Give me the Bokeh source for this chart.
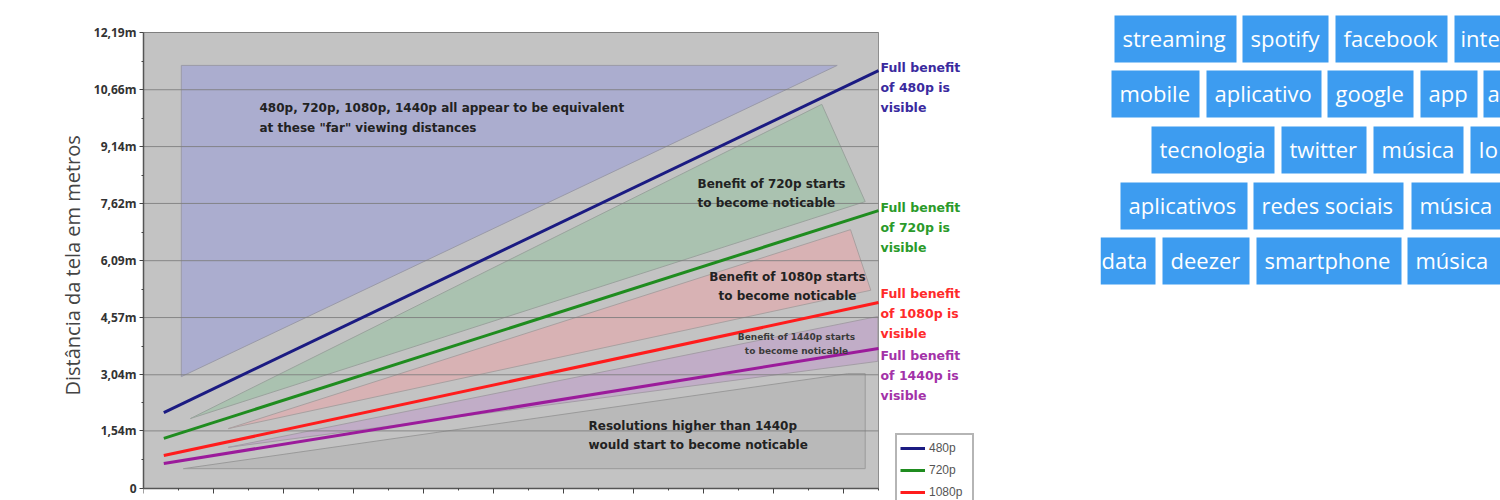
from bokeh.plotting import figure
from bokeh.models import Range1d, FixedTicker, LinearAxis, Legend, LegendItem, Title
from bokeh.layouts import row
from bokeh.embed import file_html
from bokeh.resources import INLINE
from bokeh.core.properties import value

# ---------------- data ----------------
y_ticks = [0, 1.54, 3.04, 4.57, 6.09, 7.62, 9.14, 10.66, 12.19]
y_tick_labels = ["0", "1,54m", "3,04m", "4,57m", "6,09m", "7,62m", "9,14m", "10,66m", "12,19m"]
x_ticks = [0, 10, 20, 30, 40, 50, 60, 70, 80, 90, 100]
x_minor_ticks = [5, 15, 25, 35, 45, 55, 65, 75, 85, 95, 105]
x_max = 105
y_max = 12.19

resolutions = ["480p", "720p", "1080p", "1440p"]
line_x = [2.9, 105.0]
line_480p = [2.03, 11.17]
line_720p = [1.34, 7.43]
line_1080p = [0.88, 4.97]
line_1440p = [0.67, 3.74]

region_480p_x = [5.4, 99.1, 5.4]
region_480p_y = [11.31, 11.31, 2.99]
region_720p_x = [6.7, 96.9, 103.1]
region_720p_y = [1.87, 10.27, 7.67]
region_1080p_x = [12.1, 101.0, 103.9]
region_1080p_y = [1.60, 6.92, 5.30]
region_1440p_x = [12.1, 104.9, 104.9]
region_1440p_y = [1.10, 4.60, 3.40]
region_higher_x = [5.7, 100.6, 103.1, 103.1]
region_higher_y = [0.53, 3.07, 3.07, 0.53]

y_axis_title = "Distância da tela em metros"

# visible parts of the tag cloud (the page cuts the outer tags)
tag_rows = [
    ["streaming", "spotify", "facebook", "inte"],
    ["mobile", "aplicativo", "google", "app", "a"],
    ["tecnologia", "twitter", "música", "Io"],
    ["aplicativos", "redes sociais", "música"],
    ["data", "deezer", "smartphone", "música"],
]

# ---------------- layout helpers ----------------
PX_X = 7.0             # pixels per x unit
PX_Y = 456.0 / 12.19   # pixels per metre
def px2x(px):
    return (px - 143) / PX_X
def px2y(py):
    return (488 - py) / PX_Y

FONT_B = value("DejaVu Sans")

p = figure(frame_width=957, frame_height=500,
           x_range=Range1d(0, 957 / PX_X), y_range=Range1d(-12 / PX_Y, 488 / PX_Y),
           output_backend="svg", toolbar_location=None,
           x_axis_location=None, y_axis_location=None,
           min_border_left=143, min_border_right=0, min_border_top=0, min_border_bottom=0,
           background_fill_color="white", border_fill_color="white",
           outline_line_color=None)
p.grid.visible = False

# gray chart background
p.quad(left=[0], right=[x_max], bottom=[0], top=[y_max],
       fill_color="#c3c3c3", line_color="#8e8e8e", line_width=1)

# shaded regions
p.patch(region_480p_x, region_480p_y, fill_color="#abadcf", line_color="#9a9aa8", line_width=1)
p.patch(region_720p_x, region_720p_y, fill_color="#aac2b0", line_color="#9aa39d", line_width=1)
p.patch(region_1080p_x, region_1080p_y, fill_color="#d8b2b4", line_color="#a9a0a0", line_width=1)
p.patch(region_1440p_x, region_1440p_y, fill_color="#c1adc7", line_color="#a49da6", line_width=1)
p.patch(region_higher_x, region_higher_y, fill_color="#b9b9b9", line_color="#9a9a9a", line_width=1)

# horizontal grid lines, limited to the chart area
p.segment(x0=[0] * len(y_ticks[1:]), x1=[x_max] * len(y_ticks[1:]),
          y0=y_ticks[1:], y1=y_ticks[1:],
          line_color="#7c7c7c", line_width=1, line_alpha=0.85, level="guide")

# axes
yticker = FixedTicker(ticks=y_ticks,
                      minor_ticks=[(a + b) / 2 for a, b in zip(y_ticks[:-1], y_ticks[1:])])
yaxis = LinearAxis(ticker=yticker, bounds=(0, y_max),
                   major_label_overrides={t: l for t, l in zip(y_ticks, y_tick_labels)})
yaxis.axis_line_color = "#555555"
yaxis.axis_line_width = 1.5
yaxis.major_tick_out = 4
yaxis.major_tick_in = 0
yaxis.minor_tick_out = 2
yaxis.minor_tick_in = 0
yaxis.major_tick_line_color = "#444444"
yaxis.minor_tick_line_color = "#444444"
yaxis.major_label_text_font = "Open Sans"
yaxis.major_label_text_font_size = "12px"
yaxis.major_label_text_font_style = "bold"
yaxis.major_label_text_color = "#333333"
yaxis.major_label_standoff = 3
p.add_layout(yaxis, "left")

ytitle = Title(text=y_axis_title, align="left", offset=105, standoff=9,
               text_font="Open Sans", text_font_size="20px", text_font_style="normal",
               text_color="#444444")
p.add_layout(ytitle, "left")

xticker = FixedTicker(ticks=x_ticks, minor_ticks=x_minor_ticks)
xaxis = LinearAxis(ticker=xticker, bounds=(0, x_max), fixed_location=0,
                   major_label_overrides={t: "" for t in x_ticks})
xaxis.axis_line_color = "#555555"
xaxis.axis_line_width = 1.5
xaxis.major_tick_out = 5
xaxis.major_tick_in = 0
xaxis.minor_tick_out = 2
xaxis.minor_tick_in = 0
xaxis.major_tick_line_color = "#444444"
xaxis.minor_tick_line_color = "#444444"
p.add_layout(xaxis, "below")

# resolution lines
series = [line_480p, line_720p, line_1080p, line_1440p]
line_colors = ["#1b1b82", "#1f8c1f", "#ff1c1c", "#9b1b9b"]
renderers = []
for ys, c in zip(series, line_colors):
    r = p.line(line_x, ys, line_color=c, line_width=3, level="annotation")
    renderers.append(r)

# annotation texts inside chart
def txt(x, y, s, size="12px", color="#222222", align="left", style="bold"):
    p.text(x=[x], y=[y], text=[s], text_font=FONT_B, text_font_size=size,
           text_font_style=style, text_color=color, text_align=align,
           text_baseline="middle", level="annotation")

txt(px2x(259), px2y(107), "480p, 720p, 1080p, 1440p all appear to be equivalent")
txt(px2x(259), px2y(127), "at these \"far\" viewing distances")
txt(px2x(697), px2y(183), "Benefit of 720p starts")
txt(px2x(697), px2y(202), "to become noticable")
txt(px2x(787), px2y(276), "Benefit of 1080p starts", align="center")
txt(px2x(787), px2y(295), "to become noticable", align="center")
txt(px2x(796), px2y(336), "Benefit of 1440p starts", size="9px", color="#3a3a3a", align="center")
txt(px2x(796), px2y(350), "to become noticable", size="9px", color="#3a3a3a", align="center")
txt(px2x(588), px2y(425), "Resolutions higher than 1440p")
txt(px2x(588), px2y(444), "would start to become noticable")

label_colors = ["#3a2a9e", "#2a9a2a", "#ff2a2a", "#a332a8"]
label_tops = [67, 207, 293, 355]
for res, c, top in zip(resolutions, label_colors, label_tops):
    lines = ["Full benefit", "of %s is" % res, "visible"]
    for i, s in enumerate(lines):
        txt(px2x(880), px2y(top + 20 * i), s, size="12.5px", color=c)

# legend: only the entries visible above the page fold
legend = Legend(items=[LegendItem(label=res, renderers=[r])
                       for res, r in list(zip(resolutions, renderers))[:3]],
                location=(752, -7))
legend.padding = 3
legend.spacing = 2
legend.label_height = 20
legend.label_width = 40
legend.glyph_height = 14
legend.glyph_width = 25
legend.label_standoff = 4
legend.label_text_font = "Liberation Sans"
legend.label_text_font_size = "12px"
legend.label_text_color = "#555555"
legend.border_line_color = "#6b6b6b"
legend.border_line_width = 2
legend.background_fill_color = "white"
legend.background_fill_alpha = 1.0
p.add_layout(legend)

# ---------------- tag cloud ----------------
tag_boxes = [
    [(1114, 1236), (1242, 1328), (1335, 1447), (1454, 1500)],
    [(1111, 1199), (1206, 1321), (1327, 1413), (1420, 1477), (1483, 1500)],
    [(1151, 1274), (1281, 1366), (1373, 1463), (1470, 1500)],
    [(1120, 1247), (1253, 1403), (1411, 1500)],
    [(1100, 1155), (1162, 1249), (1256, 1401), (1407, 1500)],
]
text_pad = [
    [8, 8, 8, 6],
    [8, 8, 8, 8, 4],
    [8, 8, 8, 8],
    [8, 8, 8],
    [1, 8, 8, 8],
]
row_tops = [15, 70, 126, 182, 237]
BOX_H = 47

t = figure(width=400, height=500, x_range=Range1d(1100, 1500), y_range=Range1d(500, 0),
           output_backend="svg", toolbar_location=None,
           x_axis_location=None, y_axis_location=None,
           min_border=0, outline_line_color=None,
           background_fill_color="white", border_fill_color="white")
t.grid.visible = False
L, R, T, B, TX, TY, TT = [], [], [], [], [], [], []
for words, boxes, pads, top in zip(tag_rows, tag_boxes, text_pad, row_tops):
    for w, (x0, x1), pad in zip(words, boxes, pads):
        L.append(x0); R.append(x1); T.append(top); B.append(top + BOX_H)
        TX.append(x0 + pad); TY.append(top + BOX_H / 2 - 1); TT.append(w)
t.quad(left=L, right=R, top=T, bottom=B, fill_color="#3d9cf0", line_color=None)
t.text(x=TX, y=TY, text=TT, text_font=value("Open Sans"), text_font_size="22px",
       text_color="white", text_align="left", text_baseline="middle")

layout = row(p, t)
open("out.html", "w").write(file_html(layout, INLINE))
